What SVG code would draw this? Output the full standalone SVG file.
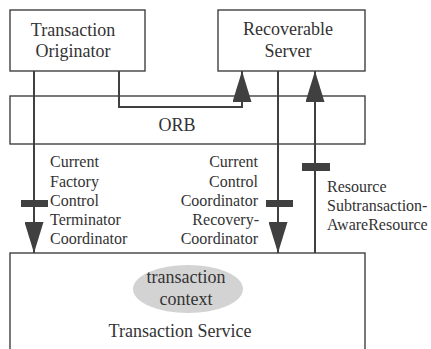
<svg xmlns="http://www.w3.org/2000/svg" width="431" height="349" viewBox="0 0 431 349">
<style>
.box{fill:#fff;stroke:#404040;stroke-width:1.4}
.t{font-family:"Liberation Serif","Times New Roman",serif;fill:#333;font-size:18px}
.l{font-family:"Liberation Serif","Times New Roman",serif;fill:#333;font-size:16px}
.c{fill:none;stroke:#404040;stroke-width:2}
.bar{fill:#404040}
</style>
<defs>
<marker id="ah" markerUnits="userSpaceOnUse" markerWidth="31" markerHeight="19" refX="31" refY="9.5" orient="auto" viewBox="0 0 31 19">
<path d="M0,0 L31,9.5 L0,19 z" fill="#404040"/>
</marker>
</defs>
<rect width="431" height="349" fill="#fff"/>
<g id="orb">
<rect class="box" x="10" y="96" width="355" height="48"/>
<text class="t" x="177" y="131" text-anchor="middle" font-size="19">ORB</text>
</g>
<g id="service">
<rect class="box" x="10" y="253" width="355" height="120"/>
<ellipse cx="188" cy="289" rx="55" ry="24" fill="#d3d3d3"/>
<text class="t" x="186" y="283" text-anchor="middle">transaction</text>
<text class="t" x="186" y="305" text-anchor="middle">context</text>
<text class="t" x="180" y="337" text-anchor="middle">Transaction Service</text>
</g>
<g id="originator">
<rect class="box" x="10" y="10" width="135" height="61"/>
<text class="t" x="73" y="36" text-anchor="middle">Transaction</text>
<text class="t" x="73" y="57" text-anchor="middle">Originator</text>
</g>
<g id="server">
<rect class="box" x="218" y="10" width="147" height="61"/>
<text class="t" x="288" y="35" text-anchor="middle">Recoverable</text>
<text class="t" x="288" y="57" text-anchor="middle">Server</text>
</g>
<g id="connectors">
<path class="c" d="M34,71 V253" marker-end="url(#ah)"/>
<rect class="bar" x="21" y="200" width="27" height="7"/>
<path class="c" d="M119,71 V107 H242 V71" marker-end="url(#ah)"/>
<path class="c" d="M278,71 V253" marker-end="url(#ah)"/>
<rect class="bar" x="266" y="200" width="27" height="7"/>
<path class="c" d="M315,253 V71" marker-end="url(#ah)"/>
<rect class="bar" x="302" y="163" width="28" height="8"/>
</g>
<g id="labels">
<text class="l" x="50" y="167">Current</text>
<text class="l" x="50" y="186.5">Factory</text>
<text class="l" x="50" y="206">Control</text>
<text class="l" x="50" y="225">Terminator</text>
<text class="l" x="50" y="244">Coordinator</text>
<text class="l" x="258" y="167" text-anchor="end">Current</text>
<text class="l" x="258" y="186.5" text-anchor="end">Control</text>
<text class="l" x="258" y="206" text-anchor="end">Coordinator</text>
<text class="l" x="259" y="225" text-anchor="end">Recovery-</text>
<text class="l" x="258" y="244" text-anchor="end">Coordinator</text>
<text class="l" x="327" y="192">Resource</text>
<text class="l" x="327" y="211">Subtransaction-</text>
<text class="l" x="327" y="230">AwareResource</text>
</g>
</svg>
